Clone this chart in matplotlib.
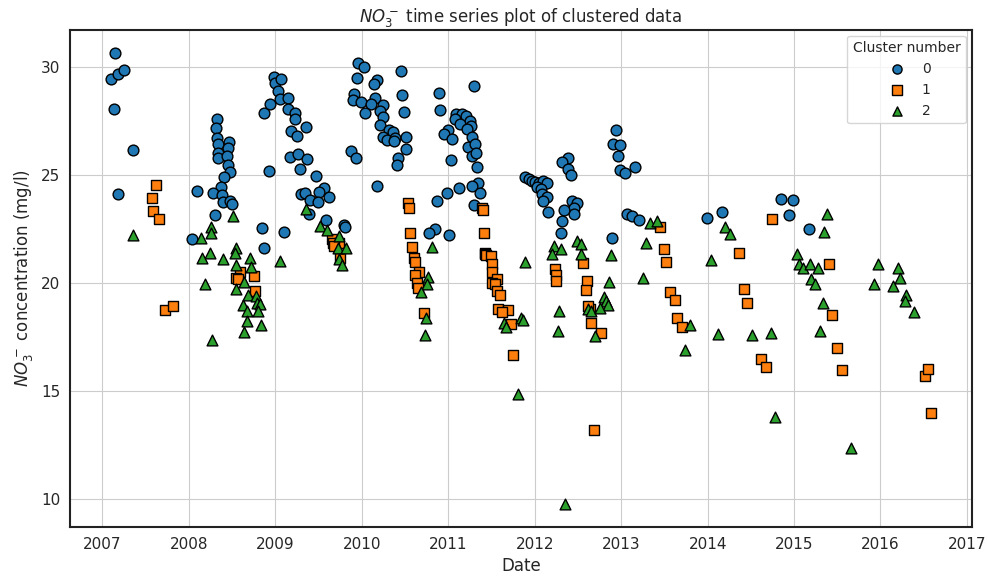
from datetime import datetime, timedelta
import matplotlib
matplotlib.use("Agg")
import matplotlib.pyplot as plt
import matplotlib.dates as mdates
import seaborn as sns

# decimal year, NO3 concentration (mg/l) per cluster
c0_year = [2007.15, 2007.10, 2007.18, 2007.25, 2007.14, 2007.35, 2007.18,
           2008.32, 2008.31, 2008.32, 2008.34, 2008.46, 2008.45, 2008.34, 2008.34, 2008.44, 2008.45,
           2008.47, 2008.41, 2008.37, 2008.28, 2008.38, 2008.40, 2008.48, 2008.50, 2008.09, 2008.30,
           2008.04, 2008.85, 2008.87, 2008.93, 2008.87, 2008.94, 2008.98, 2009.00, 2009.07, 2009.03,
           2009.05, 2009.15, 2009.15, 2009.23, 2009.23, 2009.18, 2009.25, 2009.35, 2009.17, 2009.26,
           2009.37, 2009.28, 2009.47, 2009.56, 2009.50, 2009.62, 2009.30, 2009.34, 2009.40, 2009.49,
           2009.39, 2009.58, 2009.79, 2009.81, 2009.10, 2009.95, 2010.02, 2009.94, 2010.45, 2010.17,
           2010.14, 2010.47, 2009.91, 2009.90, 2009.99, 2010.15, 2010.11, 2010.24, 2010.04, 2010.21,
           2010.25, 2010.49, 2010.21, 2010.31, 2010.36, 2010.25, 2010.29, 2010.38, 2010.51, 2010.37,
           2010.51, 2009.88, 2009.93, 2010.42, 2010.41, 2010.18,
           2010.89, 2011.30, 2010.91, 2011.09, 2011.16, 2011.20, 2011.08, 2011.25, 2011.14, 2011.26,
           2011.00, 2010.95, 2011.22, 2011.28, 2011.04, 2011.23, 2011.31, 2011.28, 2011.32, 2011.03,
           2011.33, 2011.35, 2011.27, 2011.37, 2011.12, 2010.98, 2010.87, 2011.30, 2010.85, 2010.78,
           2011.01, 2011.89, 2011.93, 2011.97, 2012.01, 2012.05, 2012.10, 2012.14, 2012.03, 2012.07,
           2012.09, 2012.14, 2012.10, 2012.16, 2012.39, 2012.32, 2012.39, 2012.42, 2012.43, 2012.49,
           2012.45, 2012.46, 2012.34, 2012.32, 2012.31,
           2012.94, 2012.91, 2012.98, 2012.96, 2012.99, 2013.04, 2013.16, 2013.07, 2013.12, 2013.20,
           2012.89, 2013.99, 2014.17, 2014.85, 2014.99, 2014.94, 2015.17]
c0_no3 = [30.67, 29.43, 29.69, 29.86, 28.07, 26.14, 24.11,
          27.58, 27.16, 26.70, 26.42, 26.51, 26.27, 26.04, 25.77, 25.88, 25.46,
          25.12, 24.93, 24.43, 24.17, 24.09, 23.75, 23.80, 23.68, 24.25, 23.13,
          22.06, 22.56, 21.64, 25.19, 27.89, 28.27, 29.54, 29.28, 29.43, 28.89,
          28.54, 28.58, 28.04, 27.89, 27.58, 27.04, 26.81, 27.22, 25.83, 25.96,
          25.76, 25.30, 24.95, 24.42, 24.21, 24.00, 24.11, 24.15, 23.83, 23.77,
          23.21, 22.90, 22.67, 22.59, 22.36, 30.20, 30.00, 29.48, 29.81, 29.38,
          29.20, 28.69, 28.74, 28.46, 28.40, 28.58, 28.27, 28.23, 27.89, 27.96,
          27.69, 27.92, 27.30, 27.08, 26.99, 26.78, 26.62, 26.70, 26.78, 26.57,
          26.22, 26.11, 25.81, 25.81, 25.46, 24.49,
          28.78, 29.12, 28.00, 27.81, 27.81, 27.73, 27.58, 27.50, 27.35, 27.27,
          27.08, 26.92, 27.12, 26.78, 26.69, 26.30, 26.42, 25.88, 26.00, 25.69,
          25.39, 24.62, 24.49, 24.19, 24.42, 24.19, 23.80, 23.60, 22.52, 22.33,
          22.21, 24.93, 24.80, 24.72, 24.68, 24.62, 24.72, 24.62, 24.46, 24.34,
          24.11, 24.00, 23.80, 23.29, 25.81, 25.60, 25.30, 24.99, 23.80, 23.69,
          23.49, 23.18, 23.38, 22.87, 22.30,
          27.08, 26.42, 26.39, 25.88, 25.23, 25.11, 25.39, 23.21, 23.10, 22.90,
          22.10, 23.00, 23.29, 23.91, 23.86, 23.15, 22.49]

c1_year = [2007.62, 2007.57, 2007.58, 2007.65, 2007.72, 2007.82,
           2008.59, 2008.55, 2008.75, 2008.76, 2008.57,
           2009.66, 2009.73, 2009.75, 2009.67, 2009.68,
           2010.53, 2010.55, 2010.56, 2010.58, 2010.60, 2010.62, 2010.66, 2010.62, 2010.64, 2010.65,
           2010.72,
           2011.39, 2011.40, 2011.41, 2011.43, 2011.42, 2011.44, 2011.49, 2011.51, 2011.51, 2011.56,
           2011.51, 2011.54, 2011.56, 2011.60, 2011.58, 2011.69, 2011.62, 2011.73, 2011.75,
           2012.24, 2012.25, 2012.25, 2012.56, 2012.61, 2012.59, 2012.64, 2012.62, 2012.65, 2012.68,
           2012.77,
           2013.45, 2013.50, 2013.52, 2013.56, 2013.62, 2013.65, 2013.70,
           2014.36, 2014.42, 2014.46, 2014.62, 2014.67, 2014.75,
           2015.41, 2015.44, 2015.50, 2015.55, 2016.51, 2016.55, 2016.58]
c1_no3 = [24.54, 23.94, 23.32, 22.95, 18.74, 18.94,
          20.51, 20.25, 20.32, 19.63, 20.20,
          22.06, 21.87, 21.18, 21.87, 21.71,
          23.72, 23.49, 22.33, 21.69, 21.18, 20.98, 20.51, 20.37, 20.02, 19.79,
          18.63,
          23.49, 23.40, 22.30, 21.41, 21.35, 21.30, 21.25, 20.90, 20.51, 20.20,
          20.02, 19.94, 19.63, 19.43, 18.81, 18.74, 18.66, 18.09, 16.65,
          20.63, 20.36, 20.09, 20.94, 20.09, 19.68, 18.78, 18.94, 18.17, 13.19,
          17.70,
          22.59, 21.59, 20.99, 19.60, 19.20, 18.40, 17.98,
          21.41, 19.71, 19.09, 16.50, 16.10, 22.98,
          20.90, 18.50, 16.99, 15.99, 15.69, 16.00, 14.00]

c2_year = [2007.36,
           2008.51, 2008.26, 2008.26, 2008.14, 2008.24, 2008.15, 2008.39, 2008.54, 2008.53, 2008.71,
           2008.72, 2008.54, 2008.19, 2008.64, 2008.55, 2008.68, 2008.62, 2008.67, 2008.77, 2008.79,
           2008.82, 2008.80, 2008.67, 2008.83, 2008.64, 2008.27,
           2009.35, 2009.52, 2009.60, 2009.73, 2009.72, 2009.82, 2009.73, 2009.77, 2009.05,
           2010.81, 2010.77, 2010.76, 2010.69, 2010.74, 2010.73,
           2011.89, 2011.84, 2011.87, 2011.64, 2011.67, 2011.81,
           2012.22, 2012.30, 2012.20, 2012.49, 2012.53, 2012.54, 2012.28, 2012.27, 2012.35, 2012.62,
           2012.65, 2012.70,
           2013.33, 2013.41, 2013.29, 2012.88, 2012.86, 2013.25, 2012.80, 2012.82, 2012.85, 2012.76,
           2013.79, 2013.74,
           2014.20, 2014.26, 2014.04, 2014.12, 2014.51, 2014.73, 2014.78,
           2015.38, 2015.35, 2015.03, 2015.06, 2015.10, 2015.18, 2015.28, 2015.20, 2015.24, 2015.34,
           2015.30, 2015.66, 2015.97, 2015.93, 2016.20, 2016.23, 2016.14, 2016.30, 2016.28, 2016.39]
c2_no3 = [22.21,
          23.10, 22.59, 22.33, 22.10, 21.41, 21.14, 21.10, 21.64, 21.41, 21.14,
          20.76, 20.82, 19.94, 20.05, 19.74, 19.43, 18.97, 18.70, 19.40, 19.09,
          19.05, 18.70, 18.24, 18.04, 17.73, 17.35,
          23.44, 22.64, 22.45, 22.18, 21.64, 21.64, 21.10, 20.82, 21.02,
          21.69, 20.30, 19.94, 19.58, 18.37, 17.58,
          20.99, 18.40, 18.27, 18.17, 17.96, 14.88,
          21.71, 21.56, 21.33, 21.94, 21.79, 21.33, 18.70, 17.78, 9.75, 18.78,
          18.70, 17.55,
          22.80, 22.87, 21.87, 21.30, 20.06, 20.25, 19.37, 19.17, 18.97, 18.86,
          18.06, 16.90,
          22.59, 22.25, 21.08, 17.66, 17.58, 17.70, 13.81,
          23.18, 22.38, 21.36, 20.90, 20.68, 20.90, 20.71, 20.17, 19.94, 19.09,
          17.78, 12.38, 20.87, 19.94, 20.71, 20.25, 19.86, 19.43, 19.17, 18.66]


def to_date(y):
    year = int(y)
    start = datetime(year, 1, 1)
    days = (datetime(year + 1, 1, 1) - start).days
    return start + timedelta(days=(y - year) * days)


sns.set_style("whitegrid")
plt.rcParams["font.family"] = ["DejaVu Sans"]

fig = plt.figure(figsize=(9.88, 5.79), dpi=100)
ax = fig.add_axes([0.0709, 0.0898, 0.9126, 0.8584])

clusters = [(c0_year, c0_no3, "o", "#1f77b4"),
            (c1_year, c1_no3, "s", "#ff7f0e"),
            (c2_year, c2_no3, "^", "#2ca02c")]
for i, (yr, val, mk, col) in enumerate(clusters):
    ax.scatter([to_date(v) for v in yr], val, marker=mk, s=60, c=col,
               edgecolors="black", linewidths=1.0, label=str(i), zorder=3)

ax.xaxis.set_major_locator(mdates.YearLocator())
ax.xaxis.set_major_formatter(mdates.DateFormatter("%Y"))
ax.tick_params(labelsize=11, colors="#262626")
for sp in ax.spines.values():
    sp.set_color("#222222")
    sp.set_linewidth(1.5)

ax.set_title(r"$NO_3^-$ time series plot of clustered data", fontsize=12)
ax.set_xlabel("Date", fontsize=12)
ax.set_ylabel(r"$NO_3^-$ concentration (mg/l)", fontsize=12)
ax.legend(title="Cluster number", loc="upper right", fontsize=10, title_fontsize=10,
          markerscale=0.85, borderaxespad=0.4)

fig.savefig("out.png", dpi=100)
